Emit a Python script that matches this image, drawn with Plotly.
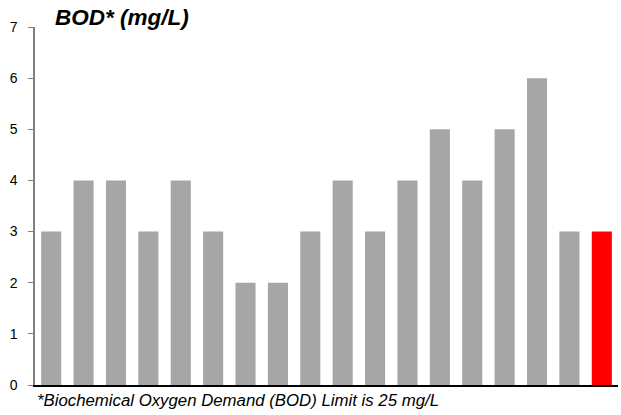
import plotly.graph_objects as go

categories = [f"S{i}" for i in range(1, 19)]
values = [3, 4, 4, 3, 4, 3, 2, 2, 3, 4, 3, 4, 5, 4, 5, 6, 3, 3]
colors = ["#A6A6A6"] * 17 + ["#FF0000"]
y_ticks = [0, 1, 2, 3, 4, 5, 6, 7]

fig = go.Figure(go.Bar(x=categories, y=values, marker=dict(color=colors, line=dict(width=0)), width=0.62))

fig.update_layout(
    width=621, height=415,
    margin=dict(l=35, r=3, t=27, b=30, autoexpand=False),
    plot_bgcolor="white", paper_bgcolor="white",
    font=dict(family="Liberation Sans, Arial, sans-serif", size=14, color="black"),
    showlegend=False,
    bargap=0.38,
)
fig.update_xaxes(showticklabels=False, showline=True, linecolor="black", linewidth=1.5,
                 ticks="", showgrid=False, range=[-0.5, 17.5], automargin=False)
fig.update_yaxes(range=[0, 7], tickvals=y_ticks, showline=True, linecolor="#808080", linewidth=1.5,
                 ticks="outside", ticklen=5, tickcolor="#808080", showgrid=False, zeroline=False,
                 automargin=False, ticklabelstandoff=8)

fig.add_annotation(text="<b><i>BOD* (mg/L)</i></b>", xref="paper", yref="paper",
                   x=0.031, y=1.0, xanchor="left", yanchor="middle", yshift=10, showarrow=False,
                   font=dict(size=22.5, color="black"))
fig.add_annotation(text="<i>*Biochemical Oxygen Demand (BOD) Limit is 25 mg/L</i>", xref="paper", yref="paper",
                   x=0.0, y=0, xanchor="left", yanchor="middle", yshift=-15, showarrow=False,
                   font=dict(size=16.8, color="black"))

fig.write_html("out.html", config={"displayModeBar": False},
               post_script="document.body.style.margin='0';")
